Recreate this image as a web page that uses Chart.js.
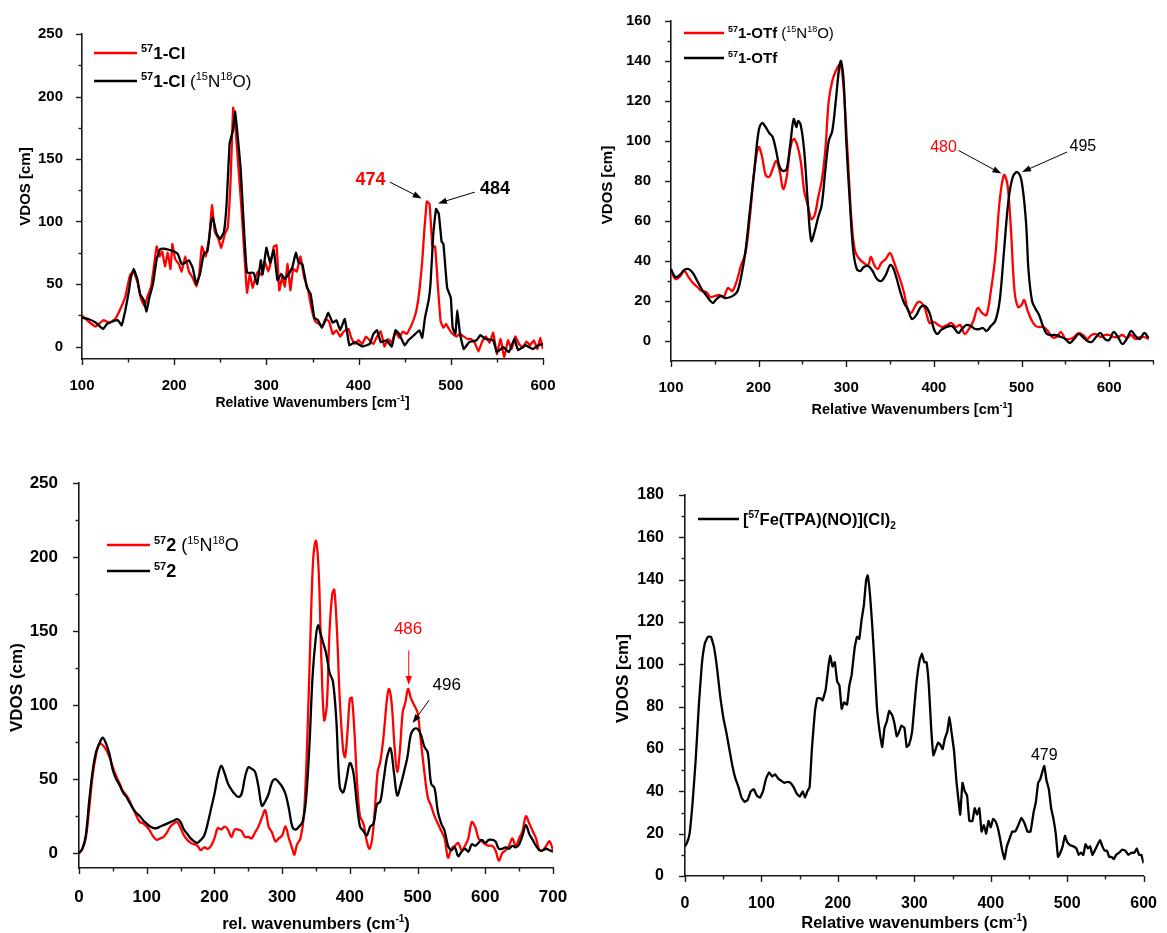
<!DOCTYPE html>
<html>
<head>
<meta charset="utf-8">
<script src="https://cdn.jsdelivr.net/npm/chart.js@4.4.1/dist/chart.umd.min.js"></script>
<style>
  body { margin: 0; background: #fff; }
  #page { position: relative; width: 1167px; height: 933px; }
  canvas { position: absolute; }
</style>
</head>
<body>
<div id="page">
  <canvas id="c1" width="580" height="460" style="left:0;top:0"></canvas>
  <canvas id="c2" width="587" height="460" style="left:580px;top:0"></canvas>
  <canvas id="c3" width="580" height="473" style="left:0;top:460px"></canvas>
  <canvas id="c4" width="587" height="473" style="left:580px;top:460px"></canvas>
</div>
<script>
const FONT = "'Liberation Sans', Arial, Helvetica, sans-serif";
const RED = "#ff0000";
const BLACK = "#000000";

// tick values shown on each axis
const ticksX1 = [100, 200, 300, 400, 500, 600];
const ticksY1 = [0, 50, 100, 150, 200, 250];
const ticksX2 = [100, 200, 300, 400, 500, 600];
const ticksY2 = [0, 20, 40, 60, 80, 100, 120, 140, 160];
const ticksX3 = [0, 100, 200, 300, 400, 500, 600, 700];
const ticksY3 = [0, 50, 100, 150, 200, 250];
const ticksX4 = [0, 100, 200, 300, 400, 500, 600];
const ticksY4 = [0, 20, 40, 60, 80, 100, 120, 140, 160, 180];

// 57-1-Cl, natural abundance NO  [wavenumber, VDOS]
const clNatural = [[100,25],[107,20],[115,16],[123,21],[130,19],[136,22],[141,29],[147,40],[152,57],[156,60],[160,52],[164,38],[168,32],[171,40],[175,48],[178,64],[181,80],[184,72],[187,76],[190,64],[193,75],[196,62],[198,82],[201,70],[205,66],[208,60],[212,72],[216,60],[220,55],[224,48],[227,57],[230,80],[234,72],[238,86],[241,113],[244,92],[248,86],[251,79],[255,90],[258,95],[261,130],[264,191],[267,170],[270,140],[273,110],[276,75],[279,43],[282,58],[285,47],[288,55],[291,60],[295,57],[298,68],[302,60],[305,68],[308,80],[311,81],[314,45],[317,55],[320,48],[323,66],[326,45],[329,62],[333,60],[337,72],[341,55],[345,46],[349,30],[353,20],[357,18],[361,16],[364,22],[368,20],[372,10],[376,13],[380,8],[384,12],[389,14],[392,7],[396,2],[400,5],[404,2],[408,8],[412,5],[416,2],[420,8],[424,12],[428,0],[432,6],[436,3],[440,12],[444,7],[448,12],[452,10],[456,15],[460,22],[463,30],[466,45],[469,68],[471,90],[474,116],[477,114],[480,80],[483,80],[486,48],[489,20],[492,15],[495,18],[498,14],[502,10],[506,8],[510,10],[514,8],[518,6],[522,6],[526,3],[530,-4],[534,4],[538,8],[542,3],[546,11],[550,-6],[554,6],[558,-9],[562,5],[566,-2],[570,8],[574,2],[578,-1],[582,4],[586,1],[590,5],[594,-2],[597,7],[600,-2]];

// 57-1-Cl with 15N18O
const clLabeled = [[100,23],[107,22],[115,19],[123,14],[127,18],[133,20],[139,21],[143,17],[147,29],[151,45],[153,55],[156,62],[160,54],[163,42],[167,37],[170,28],[173,39],[177,50],[181,70],[185,78],[191,78],[196,77],[200,76],[204,74],[208,66],[212,67],[216,69],[220,63],[224,50],[228,58],[232,74],[236,76],[240,100],[242,103],[246,90],[250,86],[254,92],[257,116],[260,162],[262,168],[264,174],[266,188],[268,175],[272,143],[276,90],[279,59],[286,59],[290,50],[294,69],[296,58],[300,79],[304,67],[308,77],[312,53],[316,58],[320,54],[324,58],[328,63],[332,75],[335,67],[339,66],[344,47],[348,42],[352,23],[356,21],[360,15],[364,21],[367,27],[372,19],[376,21],[380,13],[385,22],[390,1],[396,3.5],[404,0],[412,2],[416,10],[420,13],[424,3.5],[430,5],[436,0],[440,13],[444,10],[450,1],[454,5],[460,9],[466,13],[469,7],[472,23],[476,37],[478,50],[481,90],[484,110],[487,106],[490,84],[492,82],[496,47],[500,39],[502,15],[505,10],[507,29],[510,10],[514,-2],[520,3.5],[528,5],[532,9],[538,6],[546,5],[550,-4.5],[557,-0.5],[563,-4.5],[569,6],[573,-3],[581,1],[589,-2],[595,1],[600,2]];

// 57-1-OTf with 15N18O
const otfLabeled = [[100,35],[105,31],[110,32],[115,35],[120,32],[125,29],[130,27],[135,25],[140,24.5],[145,22],[150,22.5],[155,23],[160,22],[165,26.5],[170,25],[175,30],[180,38],[185,44],[190,62],[195,85],[200,97],[204,92],[208,83],[212,82],[216,86],[220,90],[224,85],[228,76],[232,82],[236,96],[240,101],[244,98],[248,90],[252,75],[256,68],[260,61],[264,63],[268,72],[272,80],[276,95],[280,120],[284,130],[288,135],[292,138],[295,135],[298,120],[302,90],[306,60],[310,45],[315,41],[320,39],[325,38],[328,42],[332,38],[336,36],[340,39],[345,41],[350,44],[354,40],[358,35],[362,30],[366,24],[370,16],[374,14],[378,17],[382,19.5],[386,19],[390,16],[395,9],[400,9.5],[405,8],[410,7],[415,8],[420,9],[425,7],[430,8],[435,3.5],[440,6],[445,10],[450,16.5],[455,14],[460,13],[465,25],[470,42],[475,70],[480,83],[484,78],[488,55],[492,25],[496,17],[500,18],[503,20.5],[507,15],[512,10],[516,7.5],[520,7],[525,7],[530,5],[535,2],[540,2],[545,4.5],[550,1],[555,1],[560,2],[565,4],[570,3],[575,1],[580,3],[585,3.5],[590,2],[595,3],[600,3],[605,2],[610,2],[615,3],[620,1.5],[625,3],[630,1],[635,2],[640,2],[645,1]];

// 57-1-OTf, natural abundance NO
const otfNatural = [[100,36],[105,32],[110,33],[115,35.5],[120,36],[125,34],[130,30],[135,26],[140,23],[145,20],[148,19],[152,21],[157,22.5],[162,21.5],[168,22],[172,23],[176,25],[180,32],[185,45],[190,65],[195,85],[200,105],[204,109],[208,107],[212,104],[216,102],[220,95],[224,87],[228,85],[232,86],[236,98],[240,111],[243,107],[245,110],[248,108],[252,95],[256,70],[260,50],[264,55],[268,62],[272,68],[276,85],[280,100],[284,105],[288,120],[292,137],[294,140],[297,130],[300,100],[304,70],[308,45],[312,36],[316,35],[320,37],[325,37.5],[330,35],[335,31],[340,30],[345,33],[350,38],[353,37],[357,32],[362,24],[366,19],[370,16],[375,11],[380,13],[385,17],[390,17.5],[395,14],[400,6],[404,3.5],[408,5.5],[412,6.5],[418,7.5],[422,7],[428,4],[432,6],[437,8],[442,7.5],[447,6],[452,6],[456,6.5],[460,5],[465,7.5],[470,10],[475,20],[480,45],[485,70],[490,82],[495,84.5],[500,80],[505,60],[508,35],[512,20],[516,16],[520,13],[524,8],[528,4],[532,3],[538,3],[545,2],[550,1],[555,-1],[560,1],[565,3.5],[570,2],[575,0],[580,-0.5],[585,2],[590,4],[595,1],[600,0.5],[605,4.5],[610,2],[615,-1.5],[620,1],[625,5],[630,2.5],[635,1],[640,4],[645,1.5]];

// 57-2 with 15N18O
const twoLabeled = [[0,0],[5,3],[10,10],[15,30],[20,52],[25,66],[30,74],[35,73],[40,70],[45,65],[50,58],[55,52],[60,47],[65,42],[70,39],[75,35],[80,30],[85,25],[90,21],[95,20],[100,18],[105,15],[110,11],[115,9],[120,10],[125,11],[130,14],[135,18],[140,20],[145,21],[150,17],[155,12],[160,9],[165,7],[170,6],[175,5],[180,2],[185,4],[190,3],[195,5],[200,10],[205,17],[210,16],[215,18],[220,16],[225,11],[230,16],[235,16],[240,15],[245,11],[250,11],[255,10],[260,14],[265,18],[270,24],[275,29],[280,18],[285,14],[290,8],[295,10],[300,12],[305,18],[310,10],[315,3],[318,-1],[322,6],[327,10],[332,25],[337,75],[342,150],[346,200],[350,211],[354,190],[358,130],[362,90],[366,100],[370,150],[374,175],[377,178],[381,150],[385,105],[390,70],[393,65],[397,85],[400,104],[403,105],[407,80],[411,45],[415,25],[420,20],[425,8],[429,3],[433,10],[437,30],[441,55],[445,62],[450,80],[455,105],[458,111],[462,100],[466,72],[470,55],[474,70],[478,95],[482,102],[486,111],[490,105],[495,100],[500,95],[505,75],[510,55],[515,38],[520,32],[525,25],[530,20],[535,15],[540,10],[545,-3],[550,3],[555,5],[560,7],[565,2],[570,5],[575,10],[580,21],[585,18],[590,10],[595,8],[600,6],[605,5],[610,5],[615,2],[620,-5],[625,0],[630,2],[635,5],[640,10],[645,5],[650,10],[655,15],[660,25],[665,20],[670,15],[675,10],[680,2],[685,2],[690,5],[695,8],[700,2]];

// 57-2, natural abundance NO
const twoNatural = [[0,0],[5,3],[10,12],[15,35],[20,55],[25,68],[30,74],[35,78],[40,74],[45,67],[50,56],[55,50],[60,46],[65,41],[70,38],[75,34],[80,30],[85,27],[90,25],[95,22],[100,20],[105,18],[110,17],[115,17],[120,18],[125,19],[130,20],[135,21],[140,22],[145,23],[150,21],[155,16],[160,13],[165,10],[170,8],[175,7],[180,9],[185,12],[190,20],[195,30],[200,40],[205,52],[210,59],[215,54],[220,47],[225,43],[230,40],[235,38],[240,40],[245,51],[250,58],[255,57],[260,55],[265,45],[270,32],[275,35],[280,40],[285,48],[290,50],[295,48],[300,45],[305,40],[310,30],[315,18],[320,16],[325,18],[330,21],[335,35],[340,70],[345,120],[350,147],[353,154],[357,148],[360,143],[365,135],[370,122],[375,116],[380,90],[385,45],[390,41],[395,50],[400,61],[405,55],[410,35],[415,18],[420,15],[425,12],[430,18],[435,20],[440,33],[445,35],[450,50],[455,65],[460,71],[465,55],[470,39],[475,46],[480,55],[485,65],[490,80],[495,84],[500,84],[505,80],[510,72],[515,68],[520,47],[525,44],[530,28],[535,20],[540,15],[545,5],[550,2],[555,4],[560,-2],[565,1],[570,3],[575,1],[580,6],[585,5],[590,7],[595,9],[600,7],[605,9],[610,9],[615,8],[620,3],[625,3],[630,4],[635,3],[640,5],[645,4],[650,6],[655,12],[660,19],[665,13],[670,9],[675,5],[680,2],[685,2],[690,3],[695,2],[700,1]];

// [57Fe(TPA)(NO)](Cl)2
const tpaNO = [[0,14],[3,16],[6,20],[10,35],[14,55],[18,80],[22,100],[26,110],[30,113],[34,113],[38,108],[42,98],[46,85],[50,75],[54,68],[58,60],[62,52],[66,46],[70,42],[74,37],[78,35],[82,36],[86,40],[90,41],[94,38],[98,37],[102,40],[106,46],[110,49],[114,47],[118,48],[122,46],[126,45],[130,44],[134,44.5],[138,44],[142,42],[146,39],[150,37.5],[154,40],[157,37],[160,40],[163,42],[166,60],[170,78],[173,84],[177,84],[180,83],[184,88],[188,100],[190,104],[193,99],[196,101],[199,92],[202,90],[205,79],[208,82],[212,81],[215,90],[218,95],[222,108],[225,113],[228,112],[231,121],[234,128],[237,140],[239,142],[242,133],[245,118],[248,100],[251,80],[255,67],[258,61],[261,70],[264,73],[267,78],[271,76],[274,72],[277,66],[280,68],[283,71],[287,70],[290,61],[293,62],[297,68],[300,80],[303,92],[307,102],[310,105],[313,101],[316,101],[319,90],[322,70],[325,57],[328,60],[331,63],[334,62],[337,60],[340,65],[343,68],[346,75],[349,67],[352,59],[355,45],[358,35],[360,29],[363,44],[366,40],[369,38],[372,26],[376,26],[379,32],[382,29],[385,32],[388,21],[391,24],[394,20],[397,26],[400,23],[403,27],[406,26],[409,23],[412,18],[415,12],[418,8],[421,14],[424,17],[428,21],[432,21],[436,24],[440,27.5],[444,25],[448,21],[452,21],[456,30],[459,35],[462,44],[465,46],[468,50],[470,52],[473,45],[476,41],[479,32],[482,27],[485,20],[488,9],[491,11],[494,14],[497,19],[500,16],[504,14.5],[508,14],[512,13],[515,10],[518,11],[521,10],[524,15],[527,13],[530,14],[533,10],[536,12],[540,15],[543,17],[546,14],[549,12],[552,12],[555,9],[558,9],[561,8],[564,10],[568,11],[572,12.5],[576,12],[580,10],[584,11],[588,11],[591,13],[594,10],[597,10],[600,6]];

// draws a run of text pieces; piece = [text, weight, 'sup' | 'sub' | undefined]
function richWidth(ctx, parts, size) {
  let w = 0;
  for (const [t, wt, pos] of parts) {
    ctx.font = `${wt} ${pos ? Math.round(size * 0.62) : size}px ${FONT}`;
    w += ctx.measureText(t).width;
  }
  return w;
}
function drawRich(ctx, x, y, parts, size, color) {
  ctx.fillStyle = color;
  ctx.textAlign = "left";
  ctx.textBaseline = "alphabetic";
  for (const [t, wt, pos] of parts) {
    const fs = pos ? Math.round(size * 0.62) : size;
    ctx.font = `${wt} ${fs}px ${FONT}`;
    let dy = 0;
    if (pos === "sup") dy = -size * 0.4;
    if (pos === "sub") dy = size * 0.25;
    ctx.fillText(t, x, y + dy);
    x += ctx.measureText(t).width;
  }
}

function arrow(ctx, x0, y0, x1, y1, color) {
  const ang = Math.atan2(y1 - y0, x1 - x0);
  const len = 9, half = 3.2;
  ctx.strokeStyle = color;
  ctx.fillStyle = color;
  ctx.lineWidth = 1;
  ctx.beginPath();
  ctx.moveTo(x0, y0);
  ctx.lineTo(x1 - Math.cos(ang) * len * 0.8, y1 - Math.sin(ang) * len * 0.8);
  ctx.stroke();
  ctx.beginPath();
  ctx.moveTo(x1, y1);
  ctx.lineTo(x1 - Math.cos(ang) * len - Math.sin(ang) * half, y1 - Math.sin(ang) * len + Math.cos(ang) * half);
  ctx.lineTo(x1 - Math.cos(ang) * len + Math.sin(ang) * half, y1 - Math.sin(ang) * len - Math.cos(ang) * half);
  ctx.closePath();
  ctx.fill();
}

// ticks, axis titles, legend and peak labels
const decor = {
  id: "decor",
  afterDraw(chart, args, o) {
    const { ctx, chartArea: a, scales: { x, y } } = chart;
    ctx.save();
    ctx.strokeStyle = "#1a1a1a";
    ctx.lineWidth = 1.4;
    for (let v = x.min; v <= x.max + 1e-6; v += o.xMinor) {
      const px = Math.round(x.getPixelForValue(v)) + 0.5;
      const major = Math.abs(v % o.xMajor) < 1e-6;
      ctx.beginPath();
      ctx.moveTo(px, a.bottom);
      ctx.lineTo(px, a.bottom + (major ? 6 : 3.5));
      ctx.stroke();
    }
    for (let v = 0; v <= y.max + 1e-6; v += o.yMinor) {
      const py = Math.round(y.getPixelForValue(v)) + 0.5;
      const major = Math.abs(v % o.yMajor) < 1e-6;
      ctx.beginPath();
      ctx.moveTo(a.left, py);
      ctx.lineTo(a.left - (major ? 6 : 3.5), py);
      ctx.stroke();
    }

    // x title
    const tw = richWidth(ctx, o.xTitle, o.titleSize);
    drawRich(ctx, (a.left + a.right) / 2 - tw / 2, a.bottom + o.xTitleDy + o.titleSize * 0.36, o.xTitle, o.titleSize, BLACK);
    // y title
    ctx.save();
    ctx.translate(a.left + o.yTitleDx, (a.top + a.bottom) / 2 + o.yTitleDy);
    ctx.rotate(-Math.PI / 2);
    ctx.font = `bold ${o.yTitleSize}px ${FONT}`;
    ctx.fillStyle = BLACK;
    ctx.textAlign = "center";
    ctx.textBaseline = "middle";
    ctx.fillText(o.yTitle, 0, 0);
    ctx.restore();

    // legend
    for (const item of o.legend) {
      ctx.strokeStyle = item.color;
      ctx.lineWidth = 2.6;
      ctx.beginPath();
      ctx.moveTo(o.legendX[0], item.y);
      ctx.lineTo(o.legendX[1], item.y);
      ctx.stroke();
      drawRich(ctx, o.legendX[1] + 4, item.y + o.legendSize * 0.36, item.parts, o.legendSize, BLACK);
    }

    // peak labels and arrows, placed in data units
    for (const n of o.notes) {
      ctx.font = `${n.weight} ${n.size}px ${FONT}`;
      ctx.fillStyle = n.color;
      ctx.textAlign = "center";
      ctx.textBaseline = "alphabetic";
      ctx.fillText(n.text, x.getPixelForValue(n.at[0]), y.getPixelForValue(n.at[1]));
      if (n.arrow) {
        const [x0, y0, x1, y1] = n.arrow;
        arrow(ctx, x.getPixelForValue(x0), y.getPixelForValue(y0), x.getPixelForValue(x1), y.getPixelForValue(y1), n.arrowColor);
      }
    }
    ctx.restore();
  }
};

function makeChart(id, p) {
  const canvas = document.getElementById(id);
  const W = canvas.width, H = canvas.height;
  const tickFont = { family: FONT, size: p.tickSize, weight: "bold" };
  return new Chart(canvas, {
    type: "line",
    data: {
      datasets: p.series.map(s => ({
        data: s.points.map(pt => ({ x: pt[0], y: pt[1] })),
        borderColor: s.color,
        borderWidth: 2.3,
        pointRadius: 0,
        tension: p.tension,
        fill: false
      }))
    },
    options: {
      responsive: false,
      animation: false,
      devicePixelRatio: 1,
      layout: { padding: { left: 0, top: p.area.top, right: W - p.area.right, bottom: 0 } },
      plugins: {
        legend: { display: false },
        tooltip: { enabled: false },
        decor: p.decor
      },
      scales: {
        x: {
          type: "linear",
          min: p.xRange[0],
          max: p.xRange[1],
          afterBuildTicks: s => { s.ticks = p.xTicks.map(v => ({ value: v })); },
          afterFit: s => { s.height = H - p.area.bottom; },
          grid: { display: false },
          border: { display: true, color: "#1a1a1a", width: 1.6 },
          ticks: { color: BLACK, font: tickFont, padding: p.xPad, autoSkip: false, maxRotation: 0, callback: v => String(v) }
        },
        y: {
          type: "linear",
          min: p.yRange[0],
          max: p.yRange[1],
          afterBuildTicks: s => { s.ticks = p.yTicks.map(v => ({ value: v })); },
          afterFit: s => { s.width = p.area.left; },
          grid: { display: false },
          border: { display: true, color: "#1a1a1a", width: 1.6 },
          ticks: { color: BLACK, font: tickFont, padding: p.yPad, autoSkip: false, callback: v => String(v) }
        }
      }
    },
    plugins: [decor]
  });
}

const cm1 = (lead, close) => [[lead, "bold"], ["-1", "bold", "sup"], [close, "bold"]];

makeChart("c1", {
  area: { left: 82, top: 34, right: 543, bottom: 359 },
  xRange: [100, 600], yRange: [-10, 250], xTicks: ticksX1, yTicks: ticksY1,
  tickSize: 15, xPad: 10, yPad: 11, tension: 0.1,
  series: [
    { points: clLabeled, color: BLACK },
    { points: clNatural, color: RED }
  ],
  decor: {
    xMajor: 100, xMinor: 50, yMajor: 50, yMinor: 25,
    xTitle: cm1("Relative Wavenumbers [cm", "]"), titleSize: 14, xTitleDy: 43,
    yTitle: "VDOS [cm]", yTitleSize: 15, yTitleDx: -56, yTitleDy: -10,
    legendX: [94, 137], legendSize: 17,
    legend: [
      { y: 53, color: RED, parts: [["57", "bold", "sup"], ["1-Cl", "bold"]] },
      { y: 81, color: BLACK, parts: [["57", "bold", "sup"], ["1-Cl ", "bold"], ["(", "normal"], ["15", "normal", "sup"], ["N", "normal"], ["18", "normal", "sup"], ["O)", "normal"]] }
    ],
    notes: [
      { text: "474", at: [413, 129], size: 18, weight: "bold", color: RED, arrow: [434, 131.5, 468.5, 118.5], arrowColor: BLACK },
      { text: "484", at: [548, 122], size: 18, weight: "bold", color: BLACK, arrow: [526, 123.5, 486, 114.5], arrowColor: BLACK }
    ]
  }
});

makeChart("c2", {
  area: { left: 91, top: 21, right: 573, bottom: 361 },
  xRange: [100, 650], yRange: [-10, 160], xTicks: ticksX2, yTicks: ticksY2,
  tickSize: 15, xPad: 10, yPad: 12, tension: 0.35,
  series: [
    { points: otfNatural, color: BLACK },
    { points: otfLabeled, color: RED }
  ],
  decor: {
    xMajor: 100, xMinor: 50, yMajor: 20, yMinor: 10,
    xTitle: cm1("Relative Wavenumbers [cm", "]"), titleSize: 14.5, xTitleDy: 48,
    yTitle: "VDOS [cm]", yTitleSize: 15, yTitleDx: -63, yTitleDy: -6,
    legendX: [104, 144], legendSize: 15,
    legend: [
      { y: 33, color: RED, parts: [["57", "bold", "sup"], ["1-OTf ", "bold"], ["(", "normal"], ["15", "normal", "sup"], ["N", "normal"], ["18", "normal", "sup"], ["O)", "normal"]] },
      { y: 58, color: BLACK, parts: [["57", "bold", "sup"], ["1-OTf", "bold"]] }
    ],
    notes: [
      { text: "480", at: [411, 94.5], size: 16, weight: "normal", color: RED, arrow: [428, 95.3, 477, 83.7], arrowColor: BLACK },
      { text: "495", at: [570, 94.8], size: 16, weight: "normal", color: BLACK, arrow: [552, 94.5, 500.5, 84.5], arrowColor: BLACK }
    ]
  }
});

makeChart("c3", {
  area: { left: 79, top: 20, right: 553, bottom: 408 },
  xRange: [0, 700], yRange: [-10, 250], xTicks: ticksX3, yTicks: ticksY3,
  tickSize: 17, xPad: 11, yPad: 13, tension: 0.35,
  series: [
    { points: twoNatural, color: BLACK },
    { points: twoLabeled, color: RED }
  ],
  decor: {
    xMajor: 100, xMinor: 50, yMajor: 50, yMinor: 25,
    xTitle: cm1("rel. wavenumbers (cm", ")"), titleSize: 16.5, xTitleDy: 55,
    yTitle: "VDOS (cm)", yTitleSize: 17, yTitleDx: -62, yTitleDy: 12,
    legendX: [107, 150], legendSize: 18,
    legend: [
      { y: 85, color: RED, parts: [["57", "bold", "sup"], ["2 ", "bold"], ["(", "normal"], ["15", "normal", "sup"], ["N", "normal"], ["18", "normal", "sup"], ["O", "normal"]] },
      { y: 111, color: BLACK, parts: [["57", "bold", "sup"], ["2", "bold"]] }
    ],
    notes: [
      { text: "486", at: [486, 148.3], size: 17, weight: "normal", color: RED, arrow: [487, 137, 487, 113.6], arrowColor: RED },
      { text: "496", at: [543, 110.3], size: 17, weight: "normal", color: BLACK, arrow: [517, 103.4, 492.6, 87.9], arrowColor: BLACK }
    ]
  }
});

makeChart("c4", {
  area: { left: 105, top: 35, right: 571, bottom: 416 },
  xRange: [0, 600], yRange: [0, 180], xTicks: ticksX4, yTicks: ticksY4,
  tickSize: 16, xPad: 10, yPad: 13, tension: 0.1,
  series: [
    { points: tpaNO, color: BLACK }
  ],
  decor: {
    xMajor: 100, xMinor: 50, yMajor: 20, yMinor: 10,
    xTitle: cm1("Relative wavenumbers (cm", ")"), titleSize: 16.5, xTitleDy: 46,
    yTitle: "VDOS [cm]", yTitleSize: 17, yTitleDx: -62, yTitleDy: -7,
    legendX: [118, 159], legendSize: 16.5,
    legend: [
      { y: 59, color: BLACK, parts: [["[", "bold"], ["57", "bold", "sup"], ["Fe(TPA)(NO)](Cl)", "bold"], ["2", "bold", "sub"]] }
    ],
    notes: [
      { text: "479", at: [470, 54.7], size: 16, weight: "normal", color: BLACK }
    ]
  }
});
</script>
</body>
</html>
